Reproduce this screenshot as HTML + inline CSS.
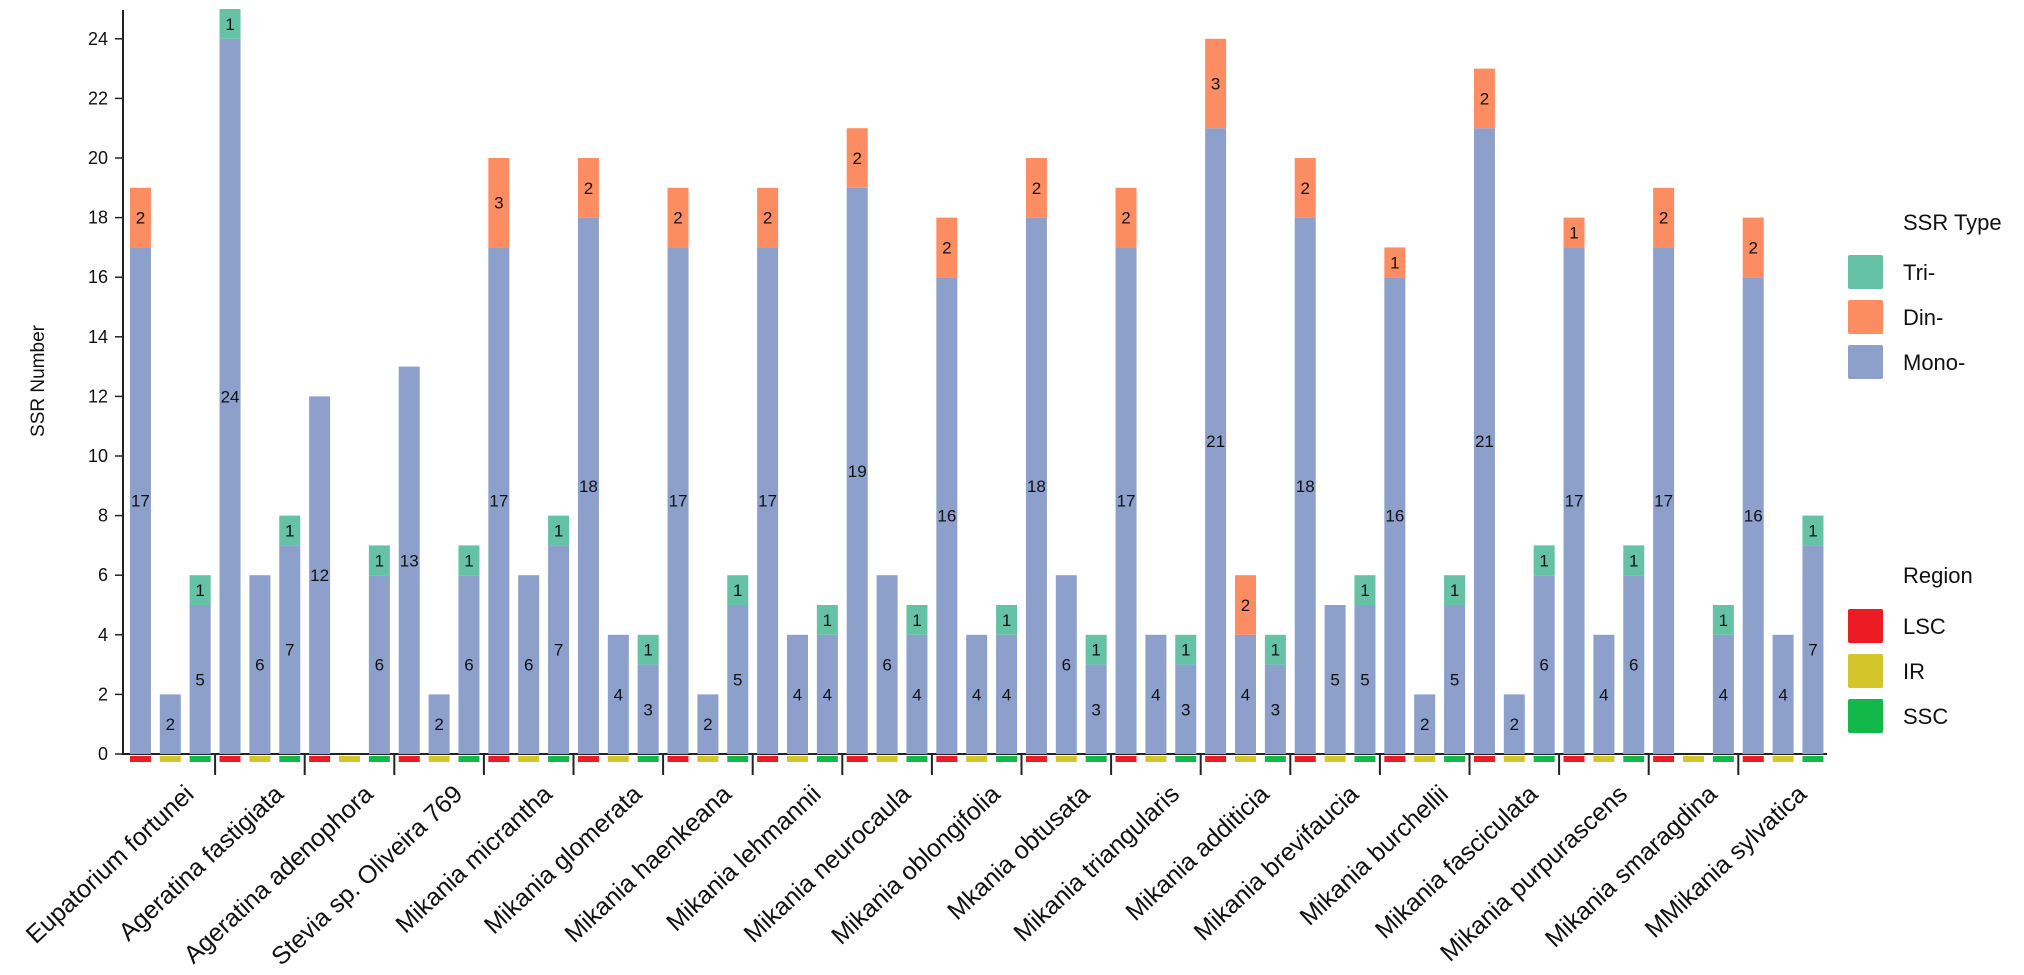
<!DOCTYPE html>
<html><head><meta charset="utf-8"><style>
html,body{margin:0;padding:0;background:#fff;}
svg{display:block;font-family:"Liberation Sans",Arial,sans-serif;}
</style></head><body>
<svg id="chart" width="2024" height="975" viewBox="0 0 2024 975">
<g id="plot"></g>
<g id="legend"></g>
</svg>
<script>
const species = ["Eupatorium fortunei","Ageratina fastigiata","Ageratina adenophora","Stevia sp. Oliveira 769","Mikania micrantha","Mikania glomerata","Mikania haenkeana","Mikania lehmannii","Mikania neurocaula","Mikania oblongifolia","Mkania obtusata","Mikania triangularis","Mikania additicia","Mikania brevifaucia","Mikania burchellii","Mikania fasciculata","Mikania purpurascens","Mikania smaragdina","MMikania sylvatica"];
const regions = ["LSC","IR","SSC"];
// values per species: [LSC, IR, SSC]
const monoVals = [[17,2,5],[24,6,7],[12,0,6],[13,2,6],[17,6,7],[18,4,3],[17,2,5],[17,4,4],[19,6,4],[16,4,4],[18,6,3],[17,4,3],[21,4,3],[18,5,5],[16,2,5],[21,2,6],[17,4,6],[17,0,4],[16,4,7]];
const dinVals = [[2,0,0],[0,0,0],[0,0,0],[0,0,0],[3,0,0],[2,0,0],[2,0,0],[2,0,0],[2,0,0],[2,0,0],[2,0,0],[2,0,0],[3,2,0],[2,0,0],[1,0,0],[2,0,0],[1,0,0],[2,0,0],[2,0,0]];
const triVals = [[0,0,1],[1,0,1],[0,0,1],[0,0,1],[0,0,1],[0,0,1],[0,0,1],[0,0,1],[0,0,1],[0,0,1],[0,0,1],[0,0,1],[0,0,1],[0,0,1],[0,0,1],[0,0,1],[0,0,1],[0,0,1],[0,0,1]];
const yTicks = [0,2,4,6,8,10,12,14,16,18,20,22,24];

const NS="http://www.w3.org/2000/svg";
const plot=document.getElementById('plot');
const legend=document.getElementById('legend');
const X0=125.5, GW=89.6, SLOT=GW/3, BW=21, Y0=754, UNIT=29.8;
const colors={mono:"#8DA0CB",din:"#FC8D62",tri:"#66C2A5"};
const regColors=["#ED1C24","#D4C62A","#12B84A"];
function y(v){return Y0-v*UNIT;}
function barX(g,r){return X0+g*GW+r*SLOT+(SLOT-BW)/2;}
function mk(tag,attrs,parent){const e=document.createElementNS(NS,tag);for(const k in attrs)e.setAttribute(k,attrs[k]);parent.appendChild(e);return e;}

let ax=mk('line',{x1:123,y1:10,x2:123,y2:Y0,stroke:'#222','stroke-width':2},plot);


let bx=mk('line',{x1:122,y1:Y0,x2:1827,y2:Y0,stroke:'#222','stroke-width':2},plot);


yTicks.forEach(t=>{
  let l=mk('line',{x1:115,y1:y(t),x2:123,y2:y(t),stroke:'#222','stroke-width':1.5},plot);
  
  
  let tx=mk('text',{x:108,y:y(t)+6,'text-anchor':'end','font-size':18,fill:'#111'},plot);
  tx.textContent=t;
  
  
});
let yt=mk('text',{x:0,y:0,'text-anchor':'middle','font-size':19,fill:'#111',transform:'translate(44,381) rotate(-90)'},plot);
yt.textContent='SSR Number';



function seg(g,r,base,v,color,name){
  if(v<=0)return;
  let rc=mk('rect',{x:barX(g,r),y:y(base+v),width:BW,height:v*UNIT,fill:color},plot);
  
  
  let t=mk('text',{x:barX(g,r)+BW/2,y:y(base+v/2)+6,'text-anchor':'middle','font-size':17,fill:'#111'},plot);
  t.textContent=v;
  
  
}
species.forEach((sp,g)=>{
  for(let r=0;r<3;r++){
    const m=monoVals[g][r], d=dinVals[g][r], tr=triVals[g][r];
    seg(g,r,0,m,colors.mono,'bar-mono');
    seg(g,r,m,d,colors.din,'bar-din');
    seg(g,r,m+d,tr,colors.tri,'bar-tri');
    let rm=mk('rect',{x:barX(g,r),y:Y0+2,width:BW,height:6,fill:regColors[r]},plot);
    
    
  }
  if(g>0){
    let tk=mk('line',{x1:X0+g*GW,y1:Y0,x2:X0+g*GW,y2:Y0+21,stroke:'#222','stroke-width':2},plot);
    
    
  }
  const cx=X0+g*GW+GW/2+25;
  let lb=mk('text',{x:0,y:0,'text-anchor':'end','font-size':25,fill:'#111',transform:`translate(${cx},796) rotate(-43)`},plot);
  lb.textContent=sp;
  
  
});

function lt(txt,x,yy,size,name){let t=mk('text',{x:x,y:yy,'font-size':size,fill:'#111'},legend);t.textContent=txt;}
lt('SSR Type',1903,230,22,'legend-title-ssr-type');
[['Tri-',colors.tri],['Din-',colors.din],['Mono-',colors.mono]].forEach((e,i)=>{
  let s=mk('rect',{x:1848,y:255+i*45,width:35,height:34,rx:2,fill:e[1]},legend);
  
  
  lt(e[0],1903,280+i*45,22,'legend-entry');
});
lt('Region',1903,583,22,'legend-title-region');
regions.forEach((rg,i)=>{
  let s=mk('rect',{x:1848,y:609+i*45,width:35,height:34,rx:2,fill:regColors[i]},legend);
  
  
  lt(rg,1903,634+i*45,22,'legend-entry');
});
</script>
</body></html>
